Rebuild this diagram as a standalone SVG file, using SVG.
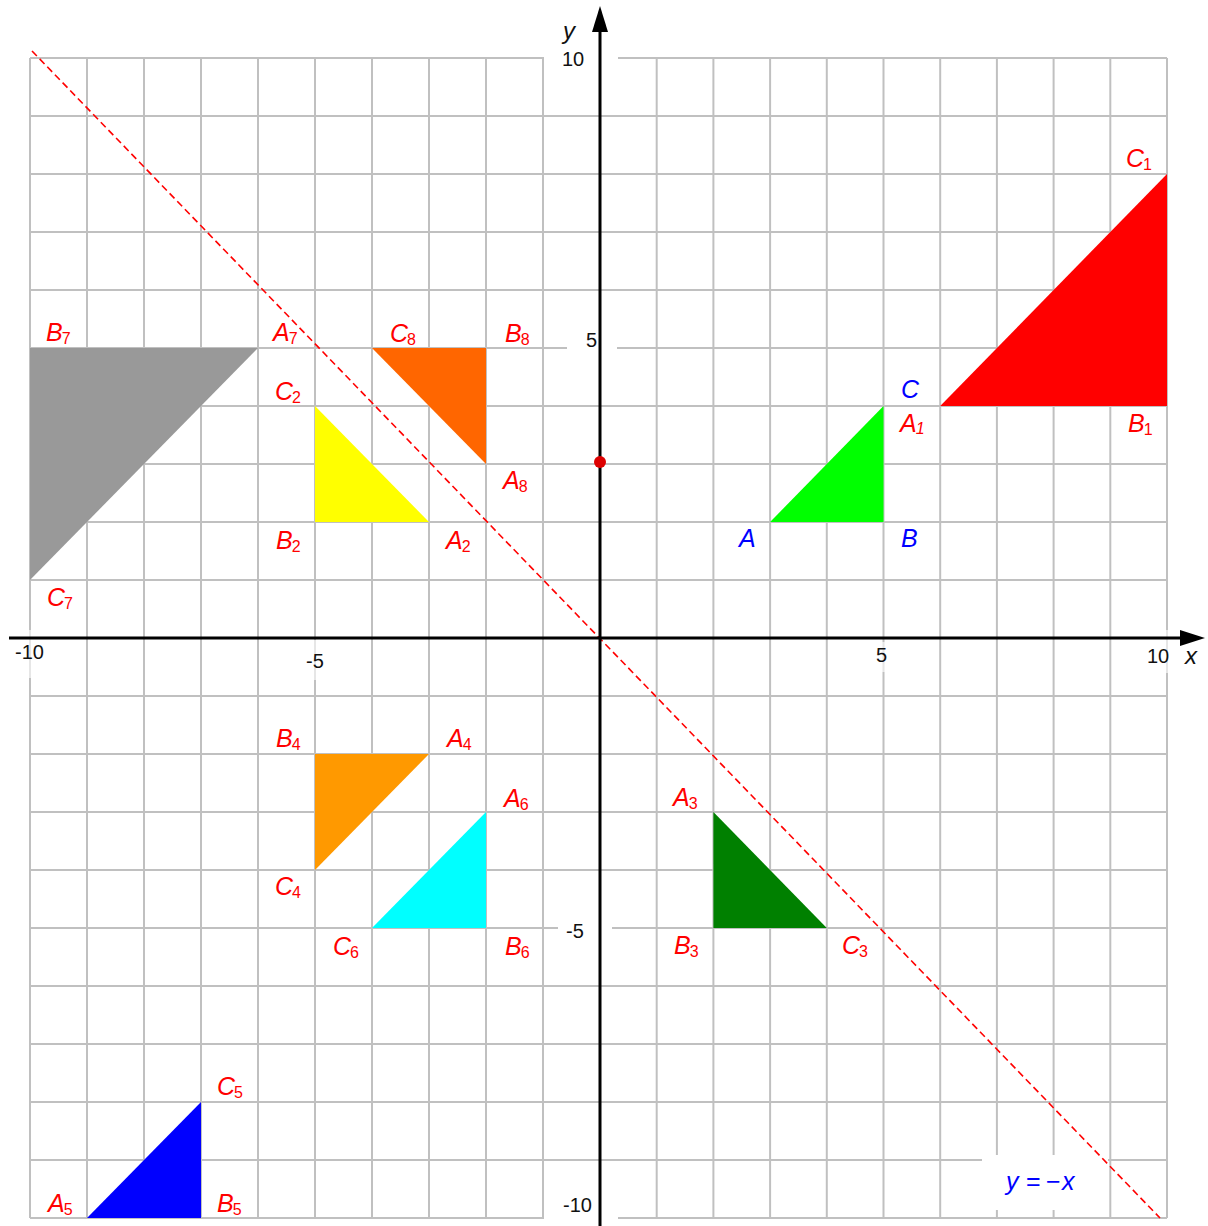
<svg xmlns="http://www.w3.org/2000/svg" width="1208" height="1226" viewBox="0 0 1208 1226">
<style>
.grid line{stroke:#C0C0C0;stroke-width:2}
.lbl{font-family:"Liberation Sans",Arial,sans-serif;font-size:25px;font-style:italic;fill:#FF0000}
.blue{fill:#0000FF}
.sub{font-size:16px;font-style:normal}
.num{font-family:"Liberation Sans",Arial,sans-serif;font-size:20px;fill:#111}
.ax{font-family:"Liberation Sans",Arial,sans-serif;font-size:24px;font-style:italic;fill:#111}
.bg{fill:#FFFFFF}
.bgs{fill:#FFFFFF;fill-opacity:0.6}
</style>
<rect width="1208" height="1226" fill="#FFFFFF"/>
<g class="grid">
<line x1="30" y1="58" x2="30" y2="1218"/>
<line x1="87" y1="58" x2="87" y2="1218"/>
<line x1="144" y1="58" x2="144" y2="1218"/>
<line x1="201" y1="58" x2="201" y2="1218"/>
<line x1="258" y1="58" x2="258" y2="1218"/>
<line x1="315" y1="58" x2="315" y2="1218"/>
<line x1="372" y1="58" x2="372" y2="1218"/>
<line x1="429" y1="58" x2="429" y2="1218"/>
<line x1="486" y1="58" x2="486" y2="1218"/>
<line x1="543" y1="58" x2="543" y2="1218"/>
<line x1="656.7" y1="58" x2="656.7" y2="1218"/>
<line x1="713.4" y1="58" x2="713.4" y2="1218"/>
<line x1="770.1" y1="58" x2="770.1" y2="1218"/>
<line x1="826.8" y1="58" x2="826.8" y2="1218"/>
<line x1="883.5" y1="58" x2="883.5" y2="1218"/>
<line x1="940.2" y1="58" x2="940.2" y2="1218"/>
<line x1="996.9" y1="58" x2="996.9" y2="1218"/>
<line x1="1053.6" y1="58" x2="1053.6" y2="1218"/>
<line x1="1110.3" y1="58" x2="1110.3" y2="1218"/>
<line x1="1167" y1="58" x2="1167" y2="1218"/>
<line x1="30" y1="58" x2="1167" y2="58"/>
<line x1="30" y1="116" x2="1167" y2="116"/>
<line x1="30" y1="174" x2="1167" y2="174"/>
<line x1="30" y1="232" x2="1167" y2="232"/>
<line x1="30" y1="290" x2="1167" y2="290"/>
<line x1="30" y1="348" x2="1167" y2="348"/>
<line x1="30" y1="406" x2="1167" y2="406"/>
<line x1="30" y1="464" x2="1167" y2="464"/>
<line x1="30" y1="522" x2="1167" y2="522"/>
<line x1="30" y1="580" x2="1167" y2="580"/>
<line x1="30" y1="696" x2="1167" y2="696"/>
<line x1="30" y1="754" x2="1167" y2="754"/>
<line x1="30" y1="812" x2="1167" y2="812"/>
<line x1="30" y1="870" x2="1167" y2="870"/>
<line x1="30" y1="928" x2="1167" y2="928"/>
<line x1="30" y1="986" x2="1167" y2="986"/>
<line x1="30" y1="1044" x2="1167" y2="1044"/>
<line x1="30" y1="1102" x2="1167" y2="1102"/>
<line x1="30" y1="1160" x2="1167" y2="1160"/>
<line x1="30" y1="1218" x2="1167" y2="1218"/>
</g>
<g id="label-backgrounds">
<rect class="bg" x="544" y="40" width="74" height="37"/>
<rect class="bg" x="567" y="328" width="50" height="23"/>
<rect class="bg" x="558" y="912" width="54" height="32"/>
<rect class="bg" x="544" y="1182" width="74" height="44"/>
<rect class="bgs" x="12" y="630" width="40" height="48"/>
<rect class="bgs" x="300" y="640" width="30" height="40"/>
<rect class="bgs" x="872" y="642" width="22" height="30"/>
<rect class="bgs" x="1143" y="630" width="27" height="43"/>
<rect class="bg" x="982" y="1155" width="126" height="55"/>
</g>
<g id="tri-ABC"><polygon points="770.1,522 883.5,522 883.5,406" fill="#00FF00"/>
<text class="lbl blue" x="739" y="547">A</text><text class="lbl blue" x="901" y="547">B</text><text class="lbl blue" x="901" y="398">C</text></g>
<g id="tri-1"><polygon points="940.2,406 1167,406 1167,174" fill="#FF0000"/>
<text class="lbl" x="900" y="432">A<tspan class="sub" style="font-style:italic" dx="-1" dy="2">1</tspan></text>
<text class="lbl" x="1128" y="432">B<tspan class="sub" dx="-1" dy="3">1</tspan></text>
<text class="lbl" x="1126" y="167">C<tspan class="sub" dx="-1" dy="3">1</tspan></text></g>
<g id="tri-2"><polygon points="315,406 315,522 429,522" fill="#FFFF00"/>
<text class="lbl" x="446" y="549">A<tspan class="sub" dx="-1" dy="3">2</tspan></text>
<text class="lbl" x="276" y="549">B<tspan class="sub" dx="-1" dy="3">2</tspan></text>
<text class="lbl" x="275" y="400">C<tspan class="sub" dx="-1" dy="3">2</tspan></text></g>
<g id="tri-3"><polygon points="713.4,812 713.4,928 826.8,928" fill="#008000"/>
<text class="lbl" x="673" y="806">A<tspan class="sub" dx="-1" dy="3">3</tspan></text>
<text class="lbl" x="674" y="954">B<tspan class="sub" dx="-1" dy="3">3</tspan></text>
<text class="lbl" x="842" y="954">C<tspan class="sub" dx="-1" dy="3">3</tspan></text></g>
<g id="tri-4"><polygon points="315,754 429,754 315,870" fill="#FF9900"/>
<text class="lbl" x="447" y="747">A<tspan class="sub" dx="-1" dy="3">4</tspan></text>
<text class="lbl" x="276" y="747">B<tspan class="sub" dx="-1" dy="3">4</tspan></text>
<text class="lbl" x="275" y="895">C<tspan class="sub" dx="-1" dy="3">4</tspan></text></g>
<g id="tri-5"><polygon points="87,1218 201,1218 201,1102" fill="#0000FF"/>
<text class="lbl" x="48" y="1212">A<tspan class="sub" dx="-1" dy="3">5</tspan></text>
<text class="lbl" x="217" y="1212">B<tspan class="sub" dx="-1" dy="3">5</tspan></text>
<text class="lbl" x="217" y="1095">C<tspan class="sub" dx="-1" dy="3">5</tspan></text></g>
<g id="tri-6"><polygon points="486,812 486,928 372,928" fill="#00FFFF"/>
<text class="lbl" x="504" y="807">A<tspan class="sub" dx="-1" dy="3">6</tspan></text>
<text class="lbl" x="505" y="955">B<tspan class="sub" dx="-1" dy="3">6</tspan></text>
<text class="lbl" x="333" y="955">C<tspan class="sub" dx="-1" dy="3">6</tspan></text></g>
<g id="tri-7"><polygon points="30,348 258,348 30,580" fill="#999999"/>
<text class="lbl" x="273" y="341">A<tspan class="sub" dx="-1" dy="3">7</tspan></text>
<text class="lbl" x="46" y="341">B<tspan class="sub" dx="-1" dy="3">7</tspan></text>
<text class="lbl" x="47" y="606">C<tspan class="sub" dx="-1" dy="3">7</tspan></text></g>
<g id="tri-8"><polygon points="372,348 486,348 486,464" fill="#FF6600"/>
<text class="lbl" x="503" y="489">A<tspan class="sub" dx="-1" dy="3">8</tspan></text>
<text class="lbl" x="505" y="342">B<tspan class="sub" dx="-1" dy="3">8</tspan></text>
<text class="lbl" x="390" y="342">C<tspan class="sub" dx="-1" dy="3">8</tspan></text></g>
<g id="connectors">
<line id="mirror-line" x1="32" y1="51" x2="1160" y2="1218" stroke="#FF0000" stroke-width="1.6" stroke-dasharray="7 4"/>
</g>
<g id="axes">
<line x1="9" y1="638" x2="1182" y2="638" stroke="#000" stroke-width="3"/>
<polygon points="1205,638 1180,630 1180,646" fill="#000"/>
<line x1="600" y1="1226" x2="600" y2="30" stroke="#000" stroke-width="3"/>
<polygon points="600,6 592,32 608,32" fill="#000"/>
<text class="ax" x="563" y="39">y</text>
<text class="ax" x="1185" y="664">x</text>
<text class="num" x="562" y="66">10</text>
<text class="num" x="586" y="347">5</text>
<text class="num" x="566" y="938">-5</text>
<text class="num" x="563" y="1212">-10</text>
<text class="num" x="15" y="659">-10</text>
<text class="num" x="306" y="668">-5</text>
<text class="num" x="876" y="662">5</text>
<text class="num" x="1147" y="663">10</text>
</g>
<g id="point"><circle cx="600" cy="462" r="6" fill="#DD0000"/></g>
<g id="eq-label"><text class="lbl blue" x="1006" y="1190">y<tspan x="1026" style="font-style:normal">=</tspan><tspan x="1046" style="font-style:normal">−</tspan><tspan x="1062">x</tspan></text></g>
</svg>
